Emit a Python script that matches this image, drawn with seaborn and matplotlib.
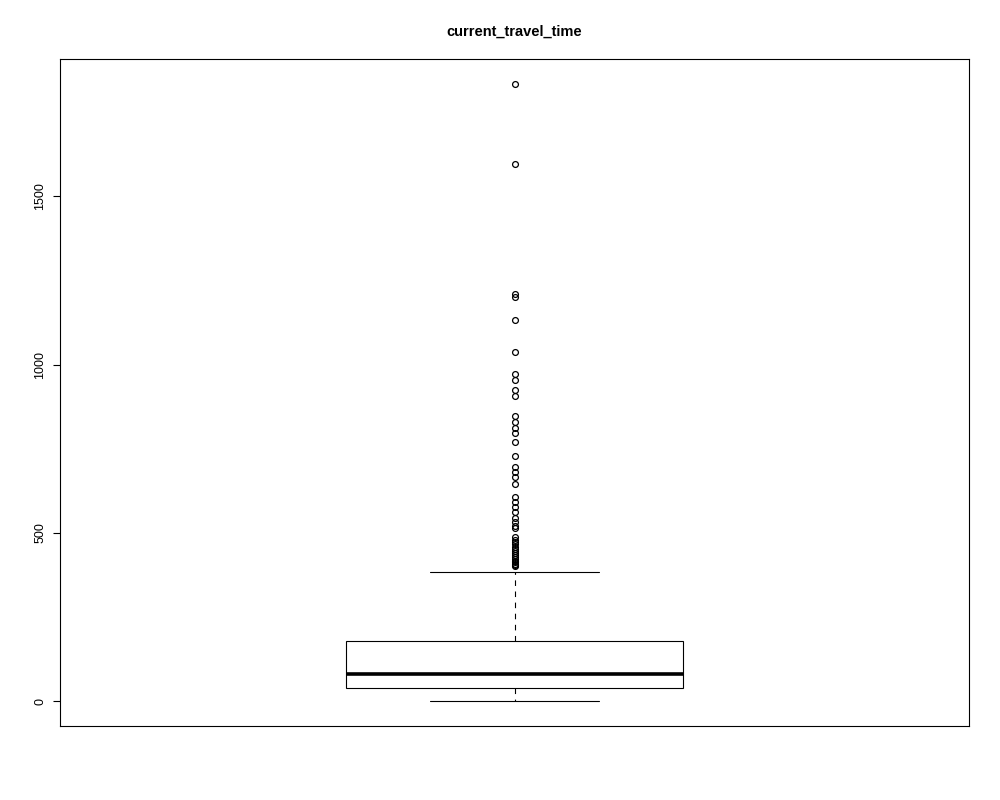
import numpy as np
import pandas as pd
import matplotlib
matplotlib.use("Agg")
import matplotlib.pyplot as plt
import seaborn as sns

# bulk of the distribution, as value levels and how many trips sit at each
core_levels = [0, 15, 38.6, 60, 82, 130, 178, 280, 385]
core_counts = [1, 80, 40, 60, 40, 60, 40, 23, 1]

# outliers (above the upper whisker)
outliers = [1835, 1597, 1209, 1200, 1134, 1037, 971, 956, 924, 907,
            849, 830, 811, 796, 770, 729, 695, 680, 665, 647,
            606, 591, 576, 561, 544, 532, 520, 514,
            487, 480, 474, 466, 459, 452, 446, 440, 434, 428,
            423, 418, 413, 409, 405, 401]

yticks = [0, 500, 1000, 1500]
title = "current_travel_time"

travel = np.concatenate([np.repeat(core_levels, core_counts), outliers])
df = pd.DataFrame({"current_travel_time": travel})

sns.set_theme(style="ticks", rc={
    "axes.edgecolor": "black",
    "axes.linewidth": 0.8,
    "ytick.color": "black",
    "xtick.color": "black",
    "text.color": "black",
    "axes.labelcolor": "black",
})
plt.rcParams["font.family"] = ["Liberation Sans", "DejaVu Sans"]

fig = plt.figure(figsize=(10, 8), dpi=100)
ax = fig.add_axes([0.06, 0.0925, 0.909, 0.83375])

sns.boxplot(data=df, y="current_travel_time", ax=ax, width=0.4,
            color="white", linecolor="black", linewidth=0.8, fliersize=4.2,
            whiskerprops=dict(linestyle=(0, (5, 5))),
            medianprops=dict(linewidth=2.6),
            flierprops=dict(marker="o", markerfacecolor="none",
                            markeredgecolor="black", markeredgewidth=0.9))

lo, hi = travel.min(), travel.max()
pad = 0.04 * (hi - lo)
ax.set_ylim(lo - pad, hi + pad)
ax.set_xlim(-0.54, 0.54)

ax.set_yticks(yticks)
ax.set_yticklabels([str(t) for t in yticks], rotation=90, va="center", fontsize=9)
ax.tick_params(axis="y", length=5, width=0.8, pad=5)
ax.set_xticks([])
ax.set_ylabel("")
ax.set_xlabel("")
for s in ax.spines.values():
    s.set_visible(True)
    s.set_color("black")
    s.set_linewidth(0.8)

ax.set_title(title, fontsize=10.5, fontweight="bold", color="black", pad=17)

fig.savefig("out.png", dpi=100)
